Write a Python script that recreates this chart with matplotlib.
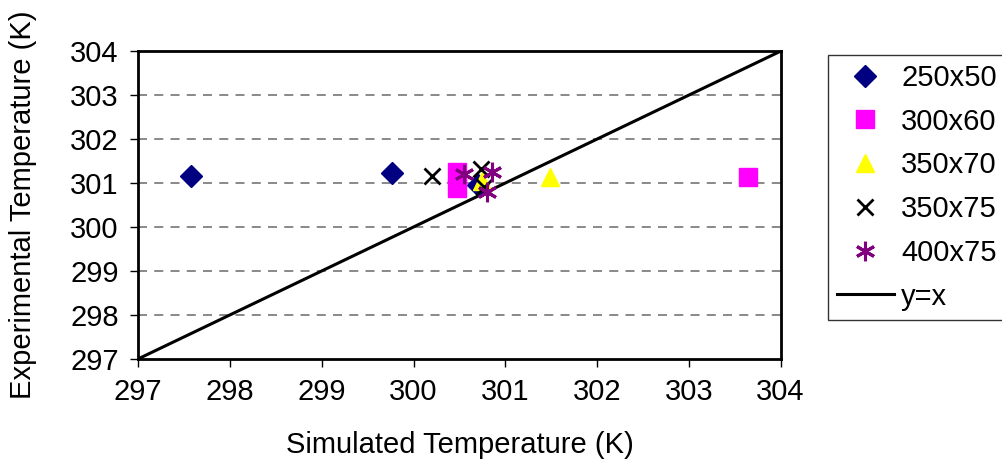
import matplotlib
matplotlib.use("Agg")
import matplotlib.pyplot as plt
from matplotlib.lines import Line2D

plt.rcParams['font.family'] = ['Liberation Sans', 'DejaVu Sans']

series_names = ["250x50", "300x60", "350x70", "350x75", "400x75"]
x_250x50 = [297.57, 299.76, 300.70]
y_250x50 = [301.15, 301.22, 300.95]
x_300x60 = [300.47, 300.47, 303.64]
y_300x60 = [301.25, 300.88, 301.14]
x_350x70 = [301.49, 300.75]
y_350x70 = [301.13, 301.04]
x_350x75 = [300.20, 300.74, 300.77]
y_350x75 = [301.15, 301.32, 300.90]
x_400x75 = [300.55, 300.86, 300.80]
y_400x75 = [301.20, 301.26, 300.80]
line_x = [297, 304]
line_y = [297, 304]
ticks = [297, 298, 299, 300, 301, 302, 303, 304]

FS = 21

fig = plt.figure(figsize=(10.02, 4.74), dpi=100)
ax = fig.add_axes([0.138, 0.243, 0.641, 0.649])

ax.set_xlim(297, 304)
ax.set_ylim(297, 304)
ax.set_xticks(ticks)
ax.set_yticks(ticks)
for t in ticks[1:-1]:
    ax.axhline(t, color='#808080', lw=1.3, ls=(0, (5, 4)), zorder=1)

ax.plot(line_x, line_y, color='black', lw=2.2, zorder=2, label='y=x')
ax.plot(x_250x50, y_250x50, ls='none', marker='D', ms=11, color='#000080', zorder=3, label='250x50')
ax.plot(x_300x60, y_300x60, ls='none', marker='s', ms=13, color='#FF00FF', zorder=3, label='300x60')
ax.plot(x_350x70, y_350x70, ls='none', marker='^', ms=13, color='#FFFF00', zorder=3, label='350x70')
ax.plot(x_350x75, y_350x75, ls='none', marker='x', ms=12, mew=2, color='black', zorder=4, label='350x75')
ax.plot(x_400x75, y_400x75, ls='none', marker=(6, 2, 0), ms=14, mew=2.2, color='#800080', zorder=4, label='400x75')

for s in ax.spines.values():
    s.set_linewidth(2)
ax.tick_params(direction='out', length=6, width=1, labelsize=FS, pad=8)
ax.set_xlabel('Simulated Temperature (K)', fontsize=FS, labelpad=18)
ax.set_ylabel('Experimental Temperature (K)', fontsize=FS, labelpad=24)

handles = [
    Line2D([], [], ls='none', marker='D', ms=11, color='#000080'),
    Line2D([], [], ls='none', marker='s', ms=13, color='#FF00FF'),
    Line2D([], [], ls='none', marker='^', ms=13, color='#FFFF00'),
    Line2D([], [], ls='none', marker='x', ms=12, mew=2, color='black'),
    Line2D([], [], ls='none', marker=(6, 2, 0), ms=14, mew=2.2, color='#800080'),
    Line2D([], [], color='black', lw=2.2),
]
labels = series_names + ['y=x']
leg = fig.legend(handles, labels, loc='upper left', bbox_to_anchor=(0.826, 0.885),
                 fontsize=FS, frameon=True, fancybox=False, edgecolor='black',
                 handlelength=1.95, handletextpad=0.25, labelspacing=0.54, borderpad=0.32,
                 borderaxespad=0)
leg.get_frame().set_linewidth(1)

fig.savefig('out.png', dpi=100)
